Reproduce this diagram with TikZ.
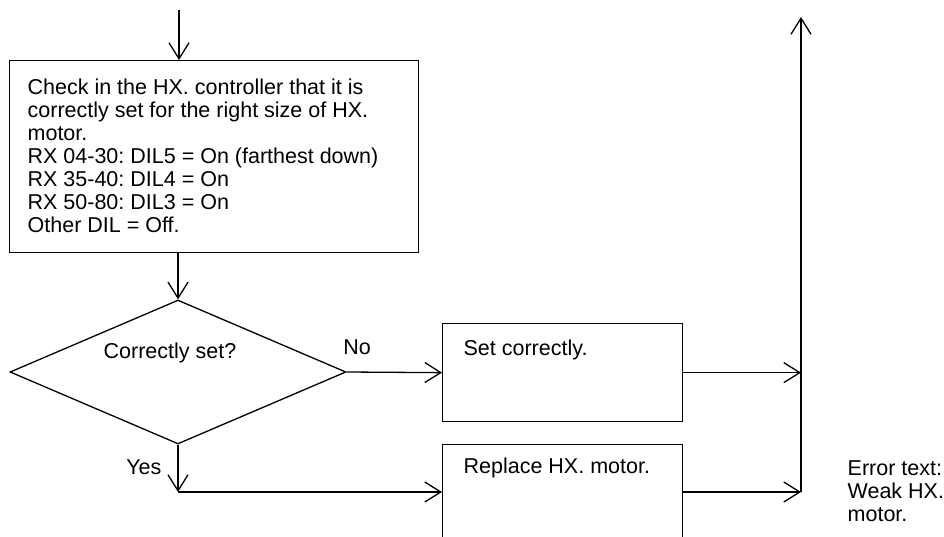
\documentclass[tikz,border=0pt]{standalone}
\usepackage{fontspec}
\setmainfont{Liberation Sans}
\usetikzlibrary{arrows.meta,shapes.geometric}
\frenchspacing
\begin{document}
\begin{tikzpicture}[x=1pt,y=-1pt,line width=1.3pt,
  every node/.style={font=\fontsize{21.5}{23}\selectfont,inner sep=0pt},
  box/.style={draw,rectangle,anchor=north west},
  arr/.style={-{Straight Barb[length=16pt,width=20pt]}}]
  \useasboundingbox (0,0) rectangle (944,537);
  \node[box,minimum width=409pt,minimum height=192pt] (chk) at (9,60) {};
  \node[anchor=north west,align=left] (chktxt) at (27,78) {Check in the HX. controller that it is\\correctly set for the right size of HX.\\motor.\\RX 04-30: DIL5 = On (farthest down)\\RX 35-40: DIL4 = On\\RX 50-80: DIL3 = On\\Other DIL = Off.};
  \node[draw,diamond,aspect=2.33,minimum width=336pt,minimum height=144pt] (dia) at (178,372) {};
  \node[anchor=base] (q) at (170,358) {Correctly set?};
  \node[box,minimum width=240pt,minimum height=98pt] (set) at (442,323) {};
  \node[anchor=base west] (settxt) at (463,355) {Set correctly.};
  \node[box,minimum width=240pt,minimum height=98pt] (repl) at (442,444) {};
  \node[anchor=base west] (repltxt) at (463,473) {Replace HX. motor.};
  \node[anchor=north west,align=left] (err) at (847,460) {Error text:\\Weak HX.\\motor.};
  \coordinate (start) at (179,10);
  \coordinate (yes) at (178,492);
  \coordinate (vbot) at (801,492);
  \coordinate (vtop) at (801,17);
  \draw[arr] (start) -- (start |- chk.north);
  \draw[arr] (dia.north |- chk.south) -- (dia.north);
  \draw[arr] (dia.east) -- (set.west) node[pos=0,anchor=base west,xshift=-4pt,yshift=18pt] {No};
  \draw[arr] (dia.south) -- (yes) node[pos=0.5,anchor=base east,xshift=-16pt,yshift=-6pt] {Yes};
  \draw[arr] (yes) -- (yes -| repl.west);
  \draw[arr] (set.east) -- (set.east -| vbot);
  \draw[arr] (yes -| repl.east) -- (vbot);
  \draw[arr] (vbot) -- (vtop);
\end{tikzpicture}
\end{document}
